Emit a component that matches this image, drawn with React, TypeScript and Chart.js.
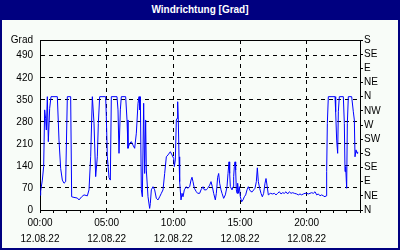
import React, { useEffect, useRef } from 'react';
import Chart from 'chart.js/auto';

// time of day in hours (12.08.22)
const hours = [
  0.0, 0.05, 0.175, 0.275, 0.35, 0.42, 0.475, 0.55, 0.625, 0.725, 0.825, 1.3, 1.425, 1.55, 1.675, 1.8, 1.925, 2.05, 2.3,
  2.375, 2.55, 2.8, 2.925, 3.125, 3.3, 3.55, 3.675, 3.8, 3.925, 4.05, 4.175, 4.3, 4.375, 4.475, 4.925,
  4.975, 5.05, 5.175, 5.275, 5.35, 5.775, 5.85, 5.925, 6.025, 6.1, 6.425, 6.525, 6.6, 6.725, 6.85, 6.975, 7.1, 7.225,
  7.35, 7.425, 7.475, 7.525, 7.6, 7.675, 7.775, 7.85, 7.925, 7.975, 8.1, 8.225, 8.275, 8.35, 8.475, 8.6, 8.725, 8.85,
  8.975, 9.1, 9.225, 9.35, 9.475, 9.6,
  9.775, 9.9, 10.025, 10.075, 10.15, 10.225, 10.275, 10.325, 10.375, 10.425, 10.475, 10.575, 10.65, 10.725, 10.825,
  10.975, 11.075, 11.225, 11.325, 11.4, 11.475, 11.575, 11.725, 11.825, 11.975, 12.075, 12.225, 12.325, 12.475, 12.575,
  12.725, 12.825, 12.925, 13.025, 13.15, 13.225, 13.325, 13.4, 13.475, 13.575, 13.65, 13.775, 13.9, 14.025, 14.1,
  14.175, 14.225, 14.275, 14.4, 14.475,
  14.525, 14.575, 14.625, 14.675, 14.725, 14.775, 14.825, 14.875, 14.95, 15.025, 15.125, 15.225, 15.325, 15.425,
  15.525, 15.625, 15.725, 15.825, 15.925, 16.025, 16.125, 16.225, 16.3, 16.375, 16.475, 16.575, 16.675, 16.775,
  16.875, 16.95, 17.025, 17.125, 17.275, 17.45, 17.575, 17.7, 17.825, 17.95, 18.075, 18.2, 18.325, 18.45, 18.575,
  18.7, 18.825, 18.95, 19.075,
  19.25, 19.375, 19.5, 19.625, 19.75, 19.875, 20.0, 20.125, 20.25, 20.375, 20.5, 20.625, 20.75, 20.875, 21.0, 21.125,
  21.25, 21.375, 21.45, 21.5, 21.55, 21.625, 22.125, 22.175, 22.25, 22.325, 22.375, 22.45, 22.75, 22.825, 22.875,
  22.925, 23.0, 23.05, 23.125, 23.375, 23.5, 23.575, 23.625, 23.7, 23.775, 23.825,
];

// wind direction in degrees
const directions = [
  47, 60, 95, 138, 318, 290, 254, 360, 217, 323, 360, 360, 222, 132, 95, 85, 90, 360, 360,
  42, 40, 38, 32, 42, 48, 45, 64, 169, 360, 276, 106, 169, 275, 360, 360,
  296, 169, 103, 95, 360, 360, 318, 180, 318, 360, 360, 286, 196, 212, 217, 206, 196, 244,
  339, 360, 318, 360, 64, 42, 339, 116, 286, 127, 42, 5, 21, 64, 74, 64, 37, 32,
  42, 53, 64, 116, 169, 175,
  185, 175, 164, 138, 159, 286, 291, 344, 280, 169, 90, 32, 53, 42, 64,
  74, 69, 74, 95, 104, 90, 69, 58, 53, 53, 64, 74, 64, 64, 69,
  79, 90, 74, 53, 32, 53, 104, 116, 85, 64, 53, 37, 48, 74, 116,
  153, 116, 74, 64, 74,
  106, 138, 153, 127, 64, 53, 85, 53, 74, 42, 26, 32, 42, 48,
  64, 74, 64, 58, 58, 64, 69, 90, 134, 90, 69, 53, 42, 53,
  85, 100, 79, 48, 53, 51, 53, 48, 53, 58, 51, 55, 53, 58, 51,
  58, 53, 55, 53,
  51, 48, 51, 48, 51, 53, 53, 51, 53, 55, 53, 58, 48, 51, 45, 48,
  45, 42, 45, 122, 275, 360, 360, 312, 222, 180, 312, 360, 360, 275, 122,
  138, 69, 275, 360, 360, 312, 286, 169, 191, 180, 185,
];

const hourLabels = ['00:00', '05:00', '10:00', '15:00', '20:00'];
const dateLabel = '12.08.22';
const gradTicks = [0, 70, 140, 210, 280, 350, 420, 490];
const gradTitle = 'Grad';
const compassLabels = ['N', 'NE', 'E', 'SE', 'S', 'SW', 'W', 'NW', 'N', 'NE', 'E', 'SE', 'S'];
const chartTitle = 'Windrichtung [Grad]';

const FONT = '"Liberation Sans", Arial, sans-serif';
const NAVY = '#000080';
const BG = '#f8fcf8';

export default function App() {
  const ref = useRef<HTMLCanvasElement | null>(null);

  useEffect(() => {
    if (!ref.current) return;
    const chart = new Chart(ref.current, {
      type: 'line',
      data: {
        datasets: [
          {
            data: hours.map((h, i) => ({ x: h, y: directions[i] })),
            borderColor: '#0000ff',
            borderWidth: 1,
            pointRadius: 0,
            tension: 0,
            fill: false,
            xAxisID: 'x',
            yAxisID: 'y',
          },
        ],
      },
      options: {
        animation: false,
        responsive: false,
        maintainAspectRatio: false,
        layout: { padding: { top: 20, left: 0, right: 0, bottom: 0 } },
        plugins: { legend: { display: false }, tooltip: { enabled: false }, title: { display: false } },
        scales: {
          x: {
            type: 'linear',
            position: 'bottom',
            min: 0,
            max: 24,
            afterFit: (s: any) => {
              s.height = 38;
            },
            ticks: {
              stepSize: 1,
              autoSkip: false,
              maxRotation: 0,
              minRotation: 0,
              padding: 3,
              color: '#000',
              font: { family: FONT, size: 10, lineHeight: 1.53 },
              callback: (v: any) => {
                const n = Number(v);
                return n % 5 === 0 && n < 24 ? [hourLabels[n / 5], dateLabel] : '';
              },
            },
            grid: {
              color: (c: any) =>
                c.tick && c.tick.value % 5 === 0 && c.tick.value > 0 && c.tick.value < 24 ? '#000' : 'rgba(0,0,0,0)',
              tickColor: '#000',
              tickLength: 3,
              lineWidth: 1,
            },
            border: { display: true, color: '#000', width: 1, dash: [4, 4] },
          },
          y: {
            type: 'linear',
            position: 'left',
            min: 0,
            max: 540,
            afterFit: (s: any) => {
              s.width = 38;
            },
            afterBuildTicks: (s: any) => {
              s.ticks = [...gradTicks, 540].map((v) => ({ value: v }));
            },
            ticks: {
              autoSkip: false,
              padding: 7,
              color: '#000',
              font: { family: FONT, size: 10 },
              callback: (v: any) => (Number(v) === 540 ? gradTitle : String(v)),
            },
            grid: { color: '#000', drawTicks: false, lineWidth: 1 },
            border: {
              color: '#000',
              width: 1,
              dash: (c: any) => (c.tick && c.tick.value === 540 ? [] : [4, 4]),
            },
          },
          y2: {
            type: 'linear',
            position: 'right',
            min: 0,
            max: 540,
            afterFit: (s: any) => {
              s.width = 38;
            },
            afterBuildTicks: (s: any) => {
              s.ticks = compassLabels.map((_, i) => ({ value: i * 45 }));
            },
            ticks: {
              autoSkip: false,
              padding: 1,
              color: '#000',
              font: { family: FONT, size: 10 },
              callback: (v: any) => compassLabels[Math.round(Number(v) / 45)],
            },
            grid: { drawOnChartArea: false, tickColor: '#000', tickLength: 3 },
            border: { color: '#000', width: 1 },
          },
        },
      },
    } as any);
    return () => chart.destroy();
  }, []);

  return (
    <div
      style={{
        position: 'fixed',
        left: 0,
        top: 0,
        width: 400,
        height: 250,
        background: NAVY,
        overflow: 'hidden',
      }}
    >
      <div
        style={{
          height: 20,
          lineHeight: '19px',
          textAlign: 'center',
          color: '#fff',
          fontFamily: FONT,
          fontWeight: 'bold',
          fontSize: 10,
        }}
      >
        {chartTitle}
      </div>
      <div style={{ position: 'absolute', left: 2, top: 20, width: 396, height: 228, background: BG }}>
        <canvas ref={ref} width={396} height={228} style={{ display: 'block', width: 396, height: 228 }} />
      </div>
    </div>
  );
}
